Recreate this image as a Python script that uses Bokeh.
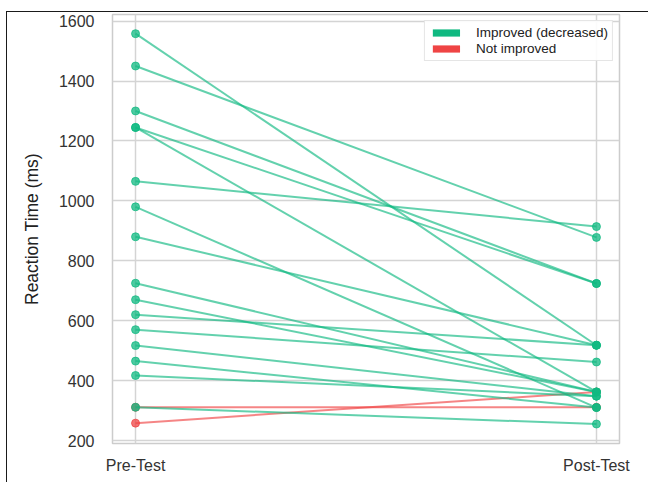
from bokeh.plotting import figure
from bokeh.models import ColumnDataSource, FixedTicker, Range1d
from bokeh.layouts import column
from bokeh.embed import file_html
from bokeh.resources import INLINE

# Paired reaction times per participant (ms)
phases = ["Pre-Test", "Post-Test"]
pre_test = [1558, 1450, 1300, 1245, 1245, 1065, 980, 880, 725, 670, 620,
            570, 517, 465, 417, 311, 311, 258]
post_test = [518, 878, 724, 724, 362, 914, 310, 518, 362, 362, 518,
             462, 348, 310, 348, 311, 255, 362]
y_ticks = [200, 400, 600, 800, 1000, 1200, 1400, 1600]

GREEN = "#10b981"
RED = "#ef4444"
FONT = "Liberation Sans"

p = figure(width=641, height=470, output_backend="svg", toolbar_location=None,
           x_range=Range1d(-0.05, 1.05), y_range=Range1d(190, 1622),
           min_border_left=105, min_border_right=29,
           min_border_top=2, min_border_bottom=39)

improved = dict(xs=[], ys=[])
not_improved = dict(xs=[], ys=[])
for a, b in zip(pre_test, post_test):
    target = improved if b < a else not_improved
    target["xs"].append([0, 1])
    target["ys"].append([a, b])

# not-improved pairs go underneath, improved pairs on top
for data, color in ((not_improved, RED), (improved, GREEN)):
    src = ColumnDataSource(data)
    p.multi_line("xs", "ys", source=src, line_color=color, line_width=2, line_alpha=0.65)
    px = [x for xs in data["xs"] for x in xs]
    py = [y for ys in data["ys"] for y in ys]
    p.scatter(px, py, size=8, fill_color=color, line_color=color,
              fill_alpha=0.75, line_alpha=0.75)

# legend entries drawn as filled patches (NaN geometry: nothing shows in the frame)
nan = float("nan")
p.quad(left=[nan], right=[nan], top=[nan], bottom=[nan], fill_color=GREEN,
       line_color=None, legend_label="Improved (decreased)")
p.quad(left=[nan], right=[nan], top=[nan], bottom=[nan], fill_color=RED,
       line_color=None, legend_label="Not improved")

lg = p.legend[0]
lg.location = "top_right"
lg.label_text_font = FONT
lg.label_text_font_size = "13.5px"
lg.label_text_color = "#222222"
lg.glyph_width = 34
lg.glyph_height = 9
lg.label_height = 12
lg.label_standoff = 13
lg.spacing = 1
lg.padding = 4
lg.margin = 6
lg.border_line_color = "#cccccc"
lg.border_line_width = 1
lg.background_fill_alpha = 0.9

# axes
p.xaxis.ticker = FixedTicker(ticks=[0, 1])
p.xaxis.major_label_overrides = {0: phases[0], 1: phases[1]}
p.yaxis.ticker = FixedTicker(ticks=y_ticks)
p.yaxis.axis_label = "Reaction Time (ms)"

for ax in (p.xaxis[0], p.yaxis[0]):
    ax.axis_line_color = None
    ax.major_tick_line_color = None
    ax.minor_tick_line_color = None
    ax.major_tick_out = 0
    ax.major_tick_in = 0
    ax.major_label_text_font = FONT
    ax.major_label_text_font_size = "16px"
    ax.major_label_text_color = "#333333"

p.xaxis.major_label_standoff = 13
p.yaxis.major_label_standoff = 18
p.yaxis.axis_label_text_font = FONT
p.yaxis.axis_label_text_font_size = "17.5px"
p.yaxis.axis_label_text_font_style = "normal"
p.yaxis.axis_label_text_color = "#222222"
p.yaxis.axis_label_standoff = 14

p.xgrid.ticker = FixedTicker(ticks=[0, 1])
p.ygrid.ticker = FixedTicker(ticks=y_ticks)
for g in (p.xgrid[0], p.ygrid[0]):
    g.grid_line_color = "#d4d4d4"
    g.grid_line_width = 1.5

p.outline_line_color = "#cccccc"
p.outline_line_width = 1.5
p.background_fill_color = "white"
p.border_fill_color = "white"

root = column(p, margin=(11, 0, 0, 6),
              styles={"border-top": "1.5px solid #1a1a1a",
                      "border-left": "1.5px solid #1a1a1a"})

with open("out.html", "w") as f:
    f.write(file_html(root, INLINE))
